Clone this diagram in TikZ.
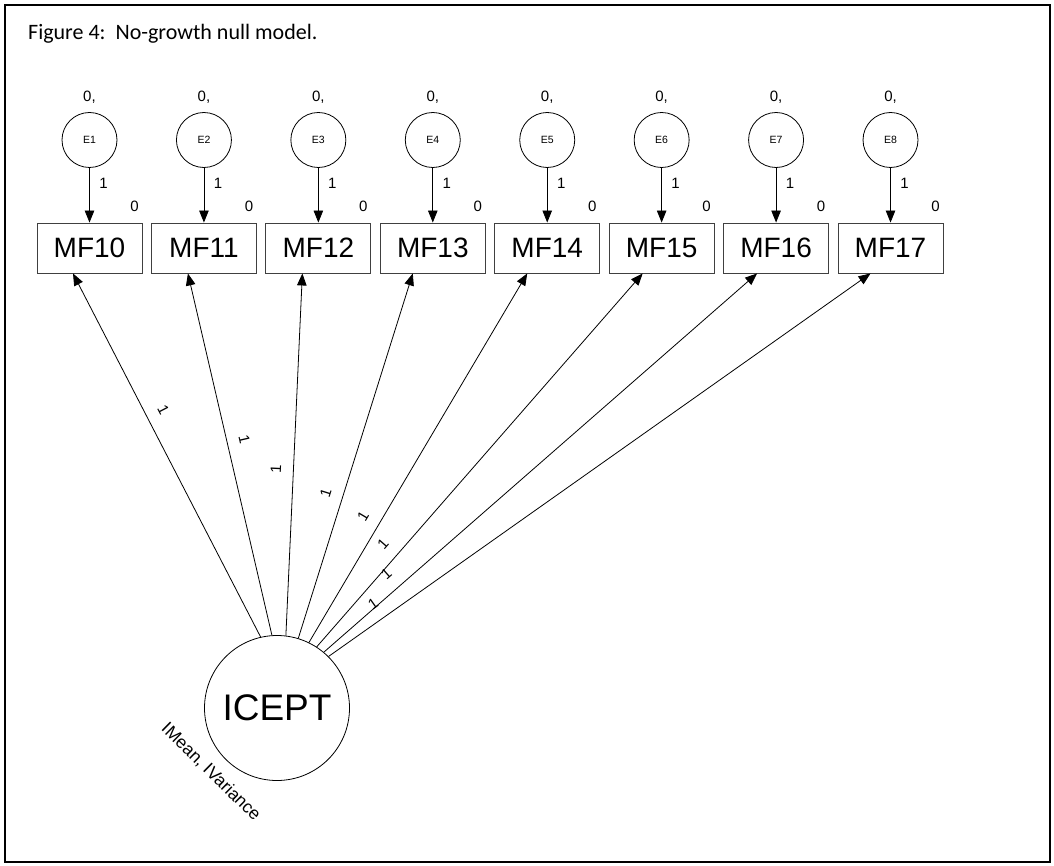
\documentclass[tikz,border=0pt]{standalone}
\usepackage{fontspec}
\setmainfont{Liberation Sans}
\newfontfamily\captionfont{Carlito}
\usetikzlibrary{calc,positioning,arrows.meta}
\newcommand{\semarrowstyle}{-{Triangle[length=12pt,width=9.5pt]}}
\newcommand{\fsz}[1]{\fontsize{#1}{#1}\selectfont}

\begin{document}
\begin{tikzpicture}[
    x=1pt, y=-1pt,
    regr/.style={\semarrowstyle, line width=0.8pt},
    obsbox/.style={draw=black!75, line width=0.9pt, minimum width=105pt, minimum height=50pt, inner sep=0pt, font=\fsz{28}},
    errcirc/.style={draw, circle, line width=0.8pt, minimum size=55pt, inner sep=0pt, font=\fsz{10.5}},
    latcirc/.style={draw, circle, line width=0.8pt, minimum size=145pt, inner sep=0pt, font=\fsz{37}},
    parm/.style={font=\fsz{15}, inner sep=0pt}
]
  \useasboundingbox (0,0) rectangle (1054,866);
  \draw[line width=2pt] (5,5) rectangle (1050,862);
  \node[anchor=base west, inner sep=0pt, font=\captionfont\fsz{22}] (title) at (28,40) {Figure 4:\ \ No-growth null model.};

  % error terms and observed scores
  \foreach \i in {1,...,8} {
    \pgfmathsetmacro\xc{89.5+114.43*(\i-1)}
    \pgfmathtruncatemacro\num{9+\i}
    \node[errcirc] (e\i) at (\xc,140) {E\i};
    \node[parm] (v\i) at (\xc,97) {0,};
    \node[obsbox] (mf\num) at (\xc,248) {MF\num};
    \draw[regr] (e\i) -- (mf\num);
    \node[parm] (w\i) at (\xc+14,183) {1};
    \node[parm] (m\i) at (\xc+45,206) {0};
  }

  \node[latcirc] (icept) at (277,708) {ICEPT};
  \node[font=\fsz{17.5}, rotate=-44.5] (imv) at (211,772) {IMean, IVariance};

  % loadings, all fixed at 1
  \foreach \i/\ang/\dx/\lpos in {1/103.5/-16.5/0.602, 2/94/-16/0.531, 3/83/-16/0.458, 4/73/-20/0.385,
                                  5/64/-20/0.317, 6/57/-19/0.244, 7/50/-19/0.171, 8/45/-20/0.101} {
    \pgfmathtruncatemacro\num{9+\i}
    \draw[regr] (icept.\ang) -- node[parm, sloped, pos=\lpos, above=12pt] {1} ([xshift=\dx pt]mf\num.south);
  }
\end{tikzpicture}
\end{document}
